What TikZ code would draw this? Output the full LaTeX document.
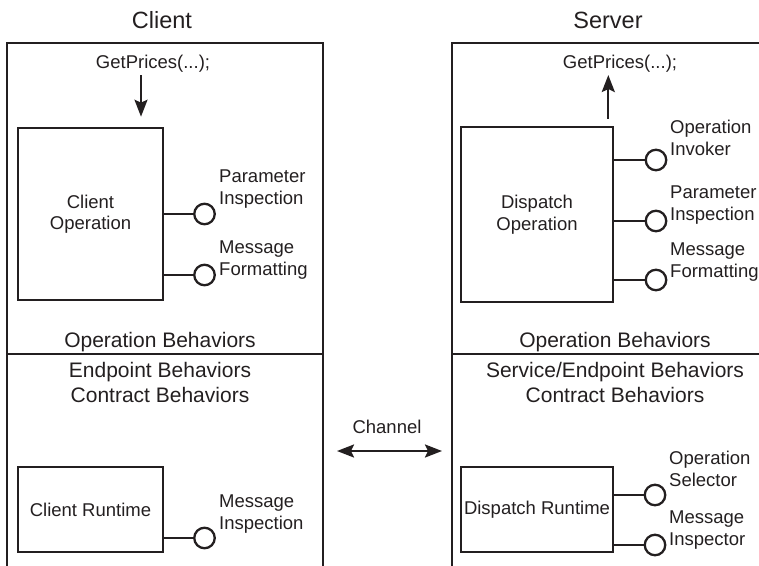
\documentclass[tikz,border=0pt]{standalone}
\usepackage{fontspec}
\setmainfont{Liberation Sans}
\usetikzlibrary{arrows.meta,calc}
\definecolor{ink}{HTML}{231F20}
\newcommand\fsmall{\fontsize{18.5}{21.5}\selectfont}
\newcommand\fmid{\fontsize{21}{25}\selectfont}
\newcommand\ftitle{\fontsize{23.5}{28}\selectfont}
\begin{document}
\begin{tikzpicture}[x=1pt,y=-1pt,
  frame/.style={draw=ink, line width=2.3pt},
  opbox/.style={draw=ink, line width=2.6pt, inner sep=0pt, align=center, font=\fsmall, text=ink},
  port/.style={draw=ink, line width=2.3pt, circle, minimum size=20.5pt, inner sep=0pt, fill=white},
  wire/.style={draw=ink, line width=2.3pt},
  lbl/.style={anchor=base west, inner sep=0pt, align=left, font=\fsmall, text=ink},
  txt/.style={anchor=base, inner sep=0pt, align=center, text=ink},
  arr/.style={draw=ink, line width=2.3pt, -{Stealth[length=17pt,width=13pt,inset=3pt]}},
  darr/.style={draw=ink, line width=2.3pt, {Stealth[length=17pt,width=13pt,inset=3pt]}-{Stealth[length=17pt,width=13pt,inset=3pt]}}
]
\useasboundingbox (0,0) rectangle (759,565);

% frames
\draw[frame] (7,566) -- (7,43) -- (323,43) -- (323,566);
\draw[frame] (452,566) -- (452,43) -- (760,43);
\draw[frame] (7,354) -- (323,354);
\draw[frame] (452,354) -- (760,354);

% titles
\node[txt, font=\ftitle] (tc) at (162,28) {Client};
\node[txt, font=\ftitle] (ts) at (608,28) {Server};

% GetPrices
\node[txt, font=\fsmall] (gp1) at (153,68) {GetPrices(...);};
\node[txt, font=\fsmall] (gp2) at (620,68) {GetPrices(...);};

% client operation
\node[opbox, minimum width=145pt, minimum height=172pt] (cop) at (90.5,214) {Client\\Operation};
\coordinate (ca) at (141,0);
\draw[arr, shorten <=3pt, shorten >=10pt] (gp1.south -| ca) -- (cop.north -| ca);

\node[port] (c1) at (204.5,214) {};
\node[port] (c2) at (204.5,275) {};
\draw[wire] (cop.east |- c1) -- (c1.west);
\draw[wire] (cop.east |- c2) -- (c2.west);
\node[lbl] (lc1) at (219,204) {Parameter\\Inspection};
\node[lbl] (lc2) at (219,275) {Message\\Formatting};

% dispatch operation
\node[opbox, minimum width=152pt, minimum height=175pt] (dop) at (537,214.5) {Dispatch\\Operation};
\coordinate (sa) at (608.3,0);
\draw[arr, shorten <=7pt, shorten >=3pt] (dop.north -| sa) -- (gp2.south -| sa);

\node[port] (s1) at (656,160) {};
\node[port] (s2) at (656,221) {};
\node[port] (s3) at (656,280) {};
\draw[wire] (dop.east |- s1) -- (s1.west);
\draw[wire] (dop.east |- s2) -- (s2.west);
\draw[wire] (dop.east |- s3) -- (s3.west);
\node[lbl] (ls1) at (670,155) {Operation\\Invoker};
\node[lbl] (ls2) at (670,220) {Parameter\\Inspection};
\node[lbl] (ls3) at (670,277) {Message\\Formatting};

% behaviors text
\node[txt, font=\fmid] (obc) at (160,347) {Operation Behaviors};
\node[txt, font=\fmid] (obs) at (615,347) {Operation Behaviors};
\node[txt, font=\fmid] (ebc) at (160,402) {Endpoint Behaviors\\Contract Behaviors};
\node[txt, font=\fmid] (ebs) at (615,402) {Service/Endpoint Behaviors\\Contract Behaviors};

% channel
\node[txt, font=\fsmall] (ch) at (387,433) {Channel};
\coordinate (chl) at (337,451);
\coordinate (chr) at (442,451);
\draw[darr] (chl) -- (chr);

% client runtime
\node[opbox, minimum width=145pt, minimum height=85pt] (crt) at (90.5,509.5) {Client Runtime};
\node[port] (c3) at (204.5,538) {};
\draw[wire] (crt.east |- c3) -- (c3.west);
\node[lbl] (lc3) at (219,529) {Message\\Inspection};

% dispatch runtime
\node[opbox, minimum width=152pt, minimum height=85pt] (drt) at (537,509.5) {Dispatch Runtime};
\node[port] (s4) at (655,495) {};
\node[port] (s5) at (655,545) {};
\draw[wire] (drt.east |- s4) -- (s4.west);
\draw[wire] (drt.east |- s5) -- (s5.west);
\node[lbl] (ls4) at (669,486) {Operation\\Selector};
\node[lbl] (ls5) at (669,545) {Message\\Inspector};
\end{tikzpicture}
\end{document}
